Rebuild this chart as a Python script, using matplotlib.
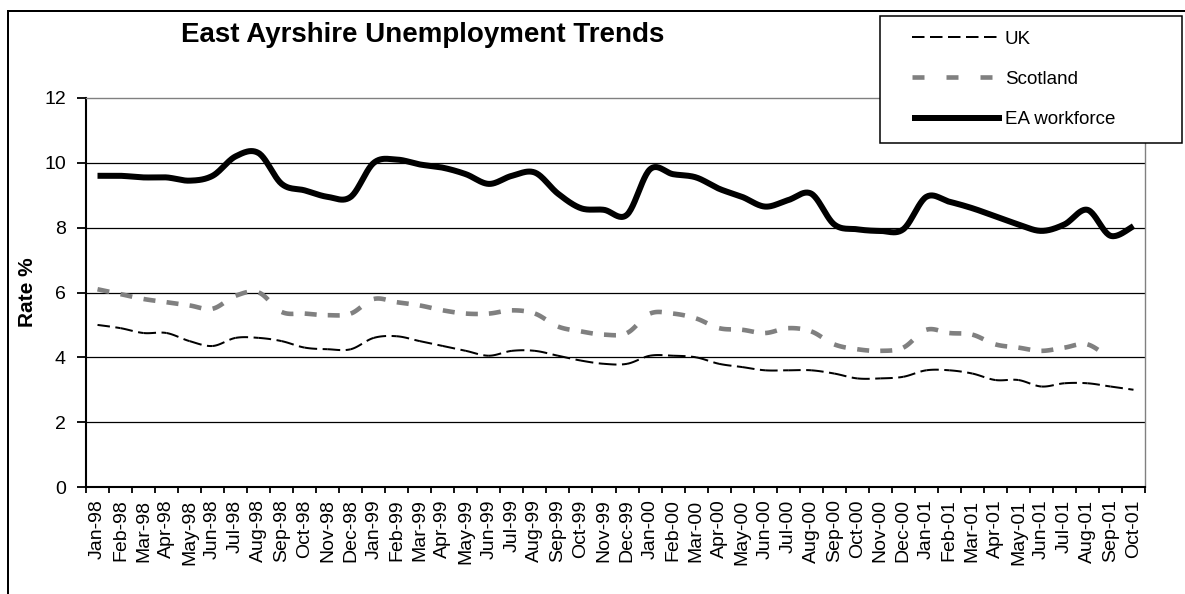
import numpy as np
import matplotlib
matplotlib.use('Agg')
import matplotlib.pyplot as plt
from matplotlib.lines import Line2D
from matplotlib.patches import Rectangle

# ---------------- data ----------------
months = ['Jan-98', 'Feb-98', 'Mar-98', 'Apr-98', 'May-98', 'Jun-98', 'Jul-98', 'Aug-98',
          'Sep-98', 'Oct-98', 'Nov-98', 'Dec-98', 'Jan-99', 'Feb-99', 'Mar-99', 'Apr-99',
          'May-99', 'Jun-99', 'Jul-99', 'Aug-99', 'Sep-99', 'Oct-99', 'Nov-99', 'Dec-99',
          'Jan-00', 'Feb-00', 'Mar-00', 'Apr-00', 'May-00', 'Jun-00', 'Jul-00', 'Aug-00',
          'Sep-00', 'Oct-00', 'Nov-00', 'Dec-00', 'Jan-01', 'Feb-01', 'Mar-01', 'Apr-01',
          'May-01', 'Jun-01', 'Jul-01', 'Aug-01', 'Sep-01', 'Oct-01']

uk = [5.0, 4.9, 4.75, 4.75, 4.5, 4.35, 4.6, 4.6, 4.5, 4.3, 4.25, 4.25,
      4.6, 4.65, 4.5, 4.35, 4.2, 4.05, 4.2, 4.2, 4.05, 3.9, 3.8, 3.8,
      4.05, 4.05, 4.0, 3.8, 3.7, 3.6, 3.6, 3.6, 3.5, 3.35, 3.35, 3.4,
      3.6, 3.6, 3.5, 3.3, 3.3, 3.1, 3.2, 3.2, 3.1, 3.0]

scotland = [6.1, 5.95, 5.8, 5.7, 5.6, 5.5, 5.9, 6.0, 5.4, 5.35, 5.3, 5.35,
            5.8, 5.7, 5.6, 5.45, 5.35, 5.35, 5.45, 5.35, 4.95, 4.8, 4.7, 4.75,
            5.35, 5.35, 5.2, 4.9, 4.85, 4.75, 4.9, 4.8, 4.4, 4.25, 4.2, 4.3,
            4.85, 4.75, 4.7, 4.4, 4.3, 4.2, 4.3, 4.4, 3.95, np.nan]

ea = [9.6, 9.6, 9.55, 9.55, 9.45, 9.6, 10.2, 10.3, 9.35, 9.15, 8.95, 8.95,
      10.0, 10.1, 9.95, 9.85, 9.65, 9.35, 9.6, 9.7, 9.05, 8.6, 8.55, 8.4,
      9.8, 9.65, 9.55, 9.2, 8.95, 8.65, 8.85, 9.05, 8.1, 7.95, 7.9, 7.95,
      8.95, 8.8, 8.6, 8.35, 8.1, 7.9, 8.1, 8.55, 7.75, 8.05]

series_names = ['UK', 'Scotland', 'EA workforce']
title_text = 'East Ayrshire Unemployment Trends'
y_label = 'Rate %'
y_ticks = [0, 2, 4, 6, 8, 10, 12]

# ---------------- style ----------------
plt.rcParams['font.family'] = ['Liberation Sans', 'DejaVu Sans']
plt.rcParams['lines.scale_dashes'] = False

W, H = 1185, 594
fig = plt.figure(figsize=(W / 100, H / 100), dpi=100)
fig.patch.set_facecolor('white')


def fx(px):
    return px / W


def fy(py):
    return 1 - py / H


ax = fig.add_axes([fx(86), fy(487), (1145 - 86) / W, (487 - 98) / H])
ax.set_facecolor('white')


def smooth_segments(ys, n=25):
    """Excel-style smoothed line: one cubic Bezier per pair of points."""
    ys = np.asarray(ys, dtype=float)
    valid = ~np.isnan(ys)
    xs = np.arange(len(ys))[valid]
    ys = ys[valid]
    pts = np.column_stack([xs, ys]).astype(float)
    N = len(pts)
    segs = []
    t = np.linspace(0, 1, n)[:, None]
    for i in range(N - 1):
        p0 = pts[i - 1] if i > 0 else pts[i]
        p1 = pts[i]
        p2 = pts[i + 1]
        p3 = pts[i + 2] if i + 2 < N else pts[i + 1]
        c1 = p1 + (p2 - p0) / 6.0
        c2 = p2 - (p3 - p1) / 6.0
        seg = ((1 - t) ** 3) * p1 + 3 * ((1 - t) ** 2) * t * c1 + 3 * (1 - t) * (t ** 2) * c2 + (t ** 3) * p2
        segs.append(seg)
    return segs


PX = 0.72  # points per pixel at 100 dpi

uk_style = dict(color='black', lw=2.0 * PX, linestyle=(0, (12.5 * PX, 5.5 * PX)),
                solid_capstyle='butt', dash_capstyle='butt')
sc_style = dict(color='#808080', lw=4.6 * PX, linestyle=(0, (12 * PX, 22 * PX)),
                solid_capstyle='butt', dash_capstyle='butt')
ea_style = dict(color='black', lw=6.0 * PX, linestyle='-', solid_capstyle='butt',
                solid_joinstyle='round')

# dashed series: dash pattern restarts at every data point (as Excel does)
for seg in smooth_segments(uk):
    ax.plot(seg[:, 0], seg[:, 1], zorder=3, **uk_style)
for seg in smooth_segments(scotland):
    ax.plot(seg[:, 0], seg[:, 1], zorder=3, **sc_style)
ea_curve = np.vstack(smooth_segments(ea))
ax.plot(ea_curve[:, 0], ea_curve[:, 1], zorder=4, **ea_style)

# axes
x = np.arange(len(months))
ax.set_xlim(-0.5, len(months) - 0.5)
ax.set_ylim(0, 12)
ax.set_xticks(x)
ax.set_xticklabels(months, rotation=90, fontsize=14)
ax.set_xticks(np.arange(-0.5, len(months), 1), minor=True)
ax.tick_params(axis='x', which='major', length=0, pad=9.0)
ax.tick_params(axis='x', which='minor', length=4.5, width=1.3, direction='out', color='black')
ax.set_yticks(y_ticks)
ax.set_yticklabels([str(v) for v in y_ticks], fontsize=14)
ax.tick_params(axis='y', length=6.5, width=1.3, direction='out', pad=8)

ax.yaxis.grid(True, color='black', lw=0.9)
ax.xaxis.grid(False)
ax.set_axisbelow(True)
gls = ax.yaxis.get_gridlines()
gls[0].set_visible(False)
gls[-1].set_visible(False)

for side in ['left', 'bottom']:
    ax.spines[side].set_color('black')
    ax.spines[side].set_linewidth(1.5)
for side in ['top', 'right']:
    ax.spines[side].set_color('#808080')
    ax.spines[side].set_linewidth(1.0)

ax.set_ylabel(y_label, fontsize=15, fontweight='bold', va='center')
ax.yaxis.set_label_coords((27.5 - 86) / (1145 - 86), 0.5)

# title
fig.text(fx(423), fy(42), title_text, fontsize=20, fontweight='bold',
         ha='center', va='baseline')

# chart border (right/bottom edges lie outside the image)
fig.add_artist(Line2D([fx(8), fx(8)], [0, fy(11)], color='black', lw=2.0 * PX))
fig.add_artist(Line2D([fx(8), 1], [fy(11), fy(11)], color='black', lw=2.0 * PX))

# legend box
fig.add_artist(Rectangle((fx(880), fy(143)), (1182 - 880) / W, (143 - 16) / H,
                         transform=fig.transFigure, facecolor='white',
                         edgecolor='black', lw=1.1, zorder=4))
handles = [Line2D([], [], **uk_style), Line2D([], [], **sc_style), Line2D([], [], **ea_style)]
leg = fig.legend(handles, series_names, loc='upper left',
                 bbox_to_anchor=(fx(912), fy(30.5)), frameon=False, fontsize=13.5,
                 handlelength=90 / 18.75, handletextpad=0.15, labelspacing=1.24,
                 borderpad=0, borderaxespad=0)
leg.set_zorder(5)

fig.savefig('out.png', dpi=100)
